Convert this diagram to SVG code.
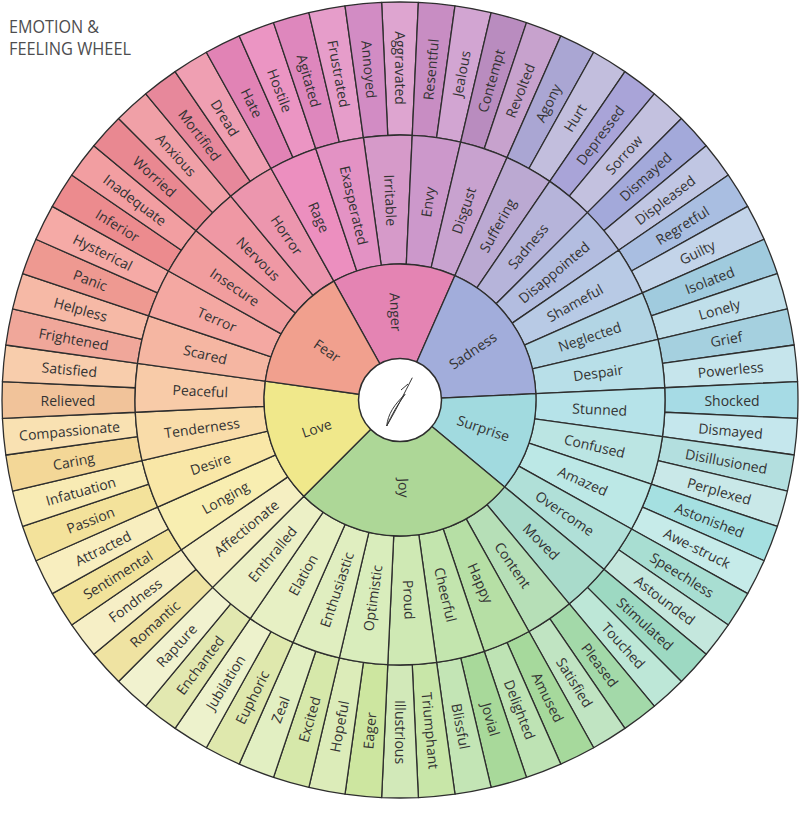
<svg xmlns="http://www.w3.org/2000/svg" xmlns:xlink="http://www.w3.org/1999/xlink" width="800" height="818" viewBox="0 0 800 818">
<style>
.s{stroke:#2e2e2e;stroke-width:1.3;stroke-linejoin:round}
.t{font-family:"Open Sans","Liberation Sans",sans-serif;font-size:14px;fill:#333;text-anchor:middle;dominant-baseline:central}
.title{font-family:"Open Sans","Liberation Sans",sans-serif;font-size:18px;fill:#4d4d4f}
</style>
<defs>
<path id="os" d="M-18.381,-397.575 A398,398 0 0 1 18.381,-397.575 L12.239,-264.717 A265,265 0 0 0 -12.239,-264.717 Z"/>
<path id="ms" d="M-24.451,-263.870 A265,265 0 0 1 24.451,-263.870 L12.548,-135.420 A136,136 0 0 0 -12.548,-135.420 Z"/>
</defs>
<rect width="800" height="818" fill="#ffffff"/>
<g id="title">
<text class="title" x="9" y="33" textLength="90" lengthAdjust="spacingAndGlyphs">EMOTION &amp;</text>
<text class="title" x="9" y="55" textLength="122" lengthAdjust="spacingAndGlyphs">FEELING WHEEL</text>
</g>
<g transform="translate(400,400)">
<g id="outer">
<g id="aggravated"><use href="#os" class="s" transform="rotate(0)" fill="#dea5d0"/><text class="t" transform="rotate(90)" x="-332">Aggravated</text></g>
<g id="resentful"><use href="#os" class="s" transform="rotate(5.294)" fill="#c88dc3"/><text class="t" transform="rotate(-84.706)" x="332">Resentful</text></g>
<g id="jealous"><use href="#os" class="s" transform="rotate(10.588)" fill="#d2a5d2"/><text class="t" transform="rotate(-79.412)" x="332">Jealous</text></g>
<g id="contempt"><use href="#os" class="s" transform="rotate(15.882)" fill="#b98cbf"/><text class="t" transform="rotate(-74.118)" x="332">Contempt</text></g>
<g id="revolted"><use href="#os" class="s" transform="rotate(21.176)" fill="#c7a2cd"/><text class="t" transform="rotate(-68.824)" x="332">Revolted</text></g>
<g id="agony"><use href="#os" class="s" transform="rotate(26.471)" fill="#aaa6d3"/><text class="t" transform="rotate(-63.529)" x="332">Agony</text></g>
<g id="hurt"><use href="#os" class="s" transform="rotate(31.765)" fill="#c2bedd"/><text class="t" transform="rotate(-58.235)" x="332">Hurt</text></g>
<g id="depressed"><use href="#os" class="s" transform="rotate(37.059)" fill="#a9a4d8"/><text class="t" transform="rotate(-52.941)" x="332">Depressed</text></g>
<g id="sorrow"><use href="#os" class="s" transform="rotate(42.353)" fill="#c3c1df"/><text class="t" transform="rotate(-47.647)" x="332">Sorrow</text></g>
<g id="dismayed-1"><use href="#os" class="s" transform="rotate(47.647)" fill="#a3a9da"/><text class="t" transform="rotate(-42.353)" x="332">Dismayed</text></g>
<g id="displeased"><use href="#os" class="s" transform="rotate(52.941)" fill="#c0c6e3"/><text class="t" transform="rotate(-37.059)" x="332">Displeased</text></g>
<g id="regretful"><use href="#os" class="s" transform="rotate(58.235)" fill="#a9bee1"/><text class="t" transform="rotate(-31.765)" x="332">Regretful</text></g>
<g id="guilty"><use href="#os" class="s" transform="rotate(63.529)" fill="#c3d4e9"/><text class="t" transform="rotate(-26.471)" x="332">Guilty</text></g>
<g id="isolated"><use href="#os" class="s" transform="rotate(68.824)" fill="#a0cbde"/><text class="t" transform="rotate(-21.176)" x="332">Isolated</text></g>
<g id="lonely"><use href="#os" class="s" transform="rotate(74.118)" fill="#c0dfea"/><text class="t" transform="rotate(-15.882)" x="332">Lonely</text></g>
<g id="grief"><use href="#os" class="s" transform="rotate(79.412)" fill="#a5d0df"/><text class="t" transform="rotate(-10.588)" x="332">Grief</text></g>
<g id="powerless"><use href="#os" class="s" transform="rotate(84.706)" fill="#c6e5ec"/><text class="t" transform="rotate(-5.294)" x="332">Powerless</text></g>
<g id="shocked"><use href="#os" class="s" transform="rotate(90)" fill="#a6dbe5"/><text class="t" transform="rotate(0)" x="332">Shocked</text></g>
<g id="dismayed-2"><use href="#os" class="s" transform="rotate(95.294)" fill="#c5e7ed"/><text class="t" transform="rotate(5.294)" x="332">Dismayed</text></g>
<g id="disillusioned"><use href="#os" class="s" transform="rotate(100.588)" fill="#b3dfdf"/><text class="t" transform="rotate(10.588)" x="332">Disillusioned</text></g>
<g id="perplexed"><use href="#os" class="s" transform="rotate(105.882)" fill="#c9e8e8"/><text class="t" transform="rotate(15.882)" x="332">Perplexed</text></g>
<g id="astonished"><use href="#os" class="s" transform="rotate(111.176)" fill="#a5e0e1"/><text class="t" transform="rotate(21.176)" x="332">Astonished</text></g>
<g id="awe-struck"><use href="#os" class="s" transform="rotate(116.471)" fill="#c6ebe9"/><text class="t" transform="rotate(26.471)" x="332">Awe-struck</text></g>
<g id="speechless"><use href="#os" class="s" transform="rotate(121.765)" fill="#a8ded2"/><text class="t" transform="rotate(31.765)" x="332">Speechless</text></g>
<g id="astounded"><use href="#os" class="s" transform="rotate(127.059)" fill="#c4e7dd"/><text class="t" transform="rotate(37.059)" x="332">Astounded</text></g>
<g id="stimulated"><use href="#os" class="s" transform="rotate(132.353)" fill="#9dd9c2"/><text class="t" transform="rotate(42.353)" x="332">Stimulated</text></g>
<g id="touched"><use href="#os" class="s" transform="rotate(137.647)" fill="#bde7d7"/><text class="t" transform="rotate(47.647)" x="332">Touched</text></g>
<g id="pleased"><use href="#os" class="s" transform="rotate(142.941)" fill="#a3d9a9"/><text class="t" transform="rotate(52.941)" x="332">Pleased</text></g>
<g id="satisfied-1"><use href="#os" class="s" transform="rotate(148.235)" fill="#c0e4c2"/><text class="t" transform="rotate(58.235)" x="332">Satisfied</text></g>
<g id="amused"><use href="#os" class="s" transform="rotate(153.529)" fill="#a6d99c"/><text class="t" transform="rotate(63.529)" x="332">Amused</text></g>
<g id="delighted"><use href="#os" class="s" transform="rotate(158.824)" fill="#bee3b4"/><text class="t" transform="rotate(68.824)" x="332">Delighted</text></g>
<g id="jovial"><use href="#os" class="s" transform="rotate(164.118)" fill="#a8d99a"/><text class="t" transform="rotate(74.118)" x="332">Jovial</text></g>
<g id="blissful"><use href="#os" class="s" transform="rotate(169.412)" fill="#c3e5b5"/><text class="t" transform="rotate(79.412)" x="332">Blissful</text></g>
<g id="triumphant"><use href="#os" class="s" transform="rotate(174.706)" fill="#c8e6a8"/><text class="t" transform="rotate(84.706)" x="332">Triumphant</text></g>
<g id="illustrious"><use href="#os" class="s" transform="rotate(180)" fill="#d2e9b9"/><text class="t" transform="rotate(90)" x="332">Illustrious</text></g>
<g id="eager"><use href="#os" class="s" transform="rotate(185.294)" fill="#cde6a0"/><text class="t" transform="rotate(-84.706)" x="-332">Eager</text></g>
<g id="hopeful"><use href="#os" class="s" transform="rotate(190.588)" fill="#dcecb9"/><text class="t" transform="rotate(-79.412)" x="-332">Hopeful</text></g>
<g id="excited"><use href="#os" class="s" transform="rotate(195.882)" fill="#d6e8aa"/><text class="t" transform="rotate(-74.118)" x="-332">Excited</text></g>
<g id="zeal"><use href="#os" class="s" transform="rotate(201.176)" fill="#e2efc2"/><text class="t" transform="rotate(-68.824)" x="-332">Zeal</text></g>
<g id="euphoric"><use href="#os" class="s" transform="rotate(206.471)" fill="#dfe8ad"/><text class="t" transform="rotate(-63.529)" x="-332">Euphoric</text></g>
<g id="jubilation"><use href="#os" class="s" transform="rotate(211.765)" fill="#edf2cc"/><text class="t" transform="rotate(-58.235)" x="-332">Jubilation</text></g>
<g id="enchanted"><use href="#os" class="s" transform="rotate(217.059)" fill="#e2e8b0"/><text class="t" transform="rotate(-52.941)" x="-332">Enchanted</text></g>
<g id="rapture"><use href="#os" class="s" transform="rotate(222.353)" fill="#f1f2cf"/><text class="t" transform="rotate(-47.647)" x="-332">Rapture</text></g>
<g id="romantic"><use href="#os" class="s" transform="rotate(227.647)" fill="#efe3a2"/><text class="t" transform="rotate(-42.353)" x="-332">Romantic</text></g>
<g id="fondness"><use href="#os" class="s" transform="rotate(232.941)" fill="#f6efc6"/><text class="t" transform="rotate(-37.059)" x="-332">Fondness</text></g>
<g id="sentimental"><use href="#os" class="s" transform="rotate(238.235)" fill="#f2e39b"/><text class="t" transform="rotate(-31.765)" x="-332">Sentimental</text></g>
<g id="attracted"><use href="#os" class="s" transform="rotate(243.529)" fill="#f8eebf"/><text class="t" transform="rotate(-26.471)" x="-332">Attracted</text></g>
<g id="passion"><use href="#os" class="s" transform="rotate(248.824)" fill="#f3e29b"/><text class="t" transform="rotate(-21.176)" x="-332">Passion</text></g>
<g id="infatuation"><use href="#os" class="s" transform="rotate(254.118)" fill="#f8ebb4"/><text class="t" transform="rotate(-15.882)" x="-332">Infatuation</text></g>
<g id="caring"><use href="#os" class="s" transform="rotate(259.412)" fill="#f3d797"/><text class="t" transform="rotate(-10.588)" x="-332">Caring</text></g>
<g id="compassionate"><use href="#os" class="s" transform="rotate(264.706)" fill="#f9e1b2"/><text class="t" transform="rotate(-5.294)" x="-332">Compassionate</text></g>
<g id="relieved"><use href="#os" class="s" transform="rotate(270)" fill="#f1c39a"/><text class="t" transform="rotate(0)" x="-332">Relieved</text></g>
<g id="satisfied-2"><use href="#os" class="s" transform="rotate(275.294)" fill="#f8cdac"/><text class="t" transform="rotate(5.294)" x="-332">Satisfied</text></g>
<g id="frightened"><use href="#os" class="s" transform="rotate(280.588)" fill="#f0a79a"/><text class="t" transform="rotate(10.588)" x="-332">Frightened</text></g>
<g id="helpless"><use href="#os" class="s" transform="rotate(285.882)" fill="#f6b9a6"/><text class="t" transform="rotate(15.882)" x="-332">Helpless</text></g>
<g id="panic"><use href="#os" class="s" transform="rotate(291.176)" fill="#ee9991"/><text class="t" transform="rotate(21.176)" x="-332">Panic</text></g>
<g id="hysterical"><use href="#os" class="s" transform="rotate(296.471)" fill="#f5aaa6"/><text class="t" transform="rotate(26.471)" x="-332">Hysterical</text></g>
<g id="inferior"><use href="#os" class="s" transform="rotate(301.765)" fill="#ec8b8e"/><text class="t" transform="rotate(31.765)" x="-332">Inferior</text></g>
<g id="inadequate"><use href="#os" class="s" transform="rotate(307.059)" fill="#f29ea1"/><text class="t" transform="rotate(37.059)" x="-332">Inadequate</text></g>
<g id="worried"><use href="#os" class="s" transform="rotate(312.353)" fill="#e98891"/><text class="t" transform="rotate(42.353)" x="-332">Worried</text></g>
<g id="anxious"><use href="#os" class="s" transform="rotate(317.647)" fill="#f0a0a7"/><text class="t" transform="rotate(47.647)" x="-332">Anxious</text></g>
<g id="mortified"><use href="#os" class="s" transform="rotate(322.941)" fill="#e7889b"/><text class="t" transform="rotate(52.941)" x="-332">Mortified</text></g>
<g id="dread"><use href="#os" class="s" transform="rotate(328.235)" fill="#ef9fb2"/><text class="t" transform="rotate(58.235)" x="-332">Dread</text></g>
<g id="hate"><use href="#os" class="s" transform="rotate(333.529)" fill="#e183b5"/><text class="t" transform="rotate(63.529)" x="-332">Hate</text></g>
<g id="hostile"><use href="#os" class="s" transform="rotate(338.824)" fill="#eb95c3"/><text class="t" transform="rotate(68.824)" x="-332">Hostile</text></g>
<g id="agitated"><use href="#os" class="s" transform="rotate(344.118)" fill="#de87bd"/><text class="t" transform="rotate(74.118)" x="-332">Agitated</text></g>
<g id="frustrated"><use href="#os" class="s" transform="rotate(349.412)" fill="#e69dca"/><text class="t" transform="rotate(79.412)" x="-332">Frustrated</text></g>
<g id="annoyed"><use href="#os" class="s" transform="rotate(354.706)" fill="#d28cc4"/><text class="t" transform="rotate(84.706)" x="-332">Annoyed</text></g>
</g>
<g id="middle">
<g id="irritable"><use href="#ms" class="s" transform="rotate(-2.647)" fill="#d69ac9"/><text class="t" transform="rotate(87.353)" x="-200">Irritable</text></g>
<g id="envy"><use href="#ms" class="s" transform="rotate(7.941)" fill="#cc98cb"/><text class="t" transform="rotate(-82.059)" x="200">Envy</text></g>
<g id="disgust"><use href="#ms" class="s" transform="rotate(18.529)" fill="#c8a2cf"/><text class="t" transform="rotate(-71.471)" x="200">Disgust</text></g>
<g id="suffering"><use href="#ms" class="s" transform="rotate(29.118)" fill="#bba9d2"/><text class="t" transform="rotate(-60.882)" x="200">Suffering</text></g>
<g id="sadness-2"><use href="#ms" class="s" transform="rotate(39.706)" fill="#b6b4da"/><text class="t" transform="rotate(-50.294)" x="200">Sadness</text></g>
<g id="disappointed"><use href="#ms" class="s" transform="rotate(50.294)" fill="#b3bde0"/><text class="t" transform="rotate(-39.706)" x="200">Disappointed</text></g>
<g id="shameful"><use href="#ms" class="s" transform="rotate(60.882)" fill="#b8cae5"/><text class="t" transform="rotate(-29.118)" x="200">Shameful</text></g>
<g id="neglected"><use href="#ms" class="s" transform="rotate(71.471)" fill="#b2d5e4"/><text class="t" transform="rotate(-18.529)" x="200">Neglected</text></g>
<g id="despair"><use href="#ms" class="s" transform="rotate(82.059)" fill="#b8dfe8"/><text class="t" transform="rotate(-7.941)" x="200">Despair</text></g>
<g id="stunned"><use href="#ms" class="s" transform="rotate(92.647)" fill="#b6e3e9"/><text class="t" transform="rotate(2.647)" x="200">Stunned</text></g>
<g id="confused"><use href="#ms" class="s" transform="rotate(103.235)" fill="#bbe5e3"/><text class="t" transform="rotate(13.235)" x="200">Confused</text></g>
<g id="amazed"><use href="#ms" class="s" transform="rotate(113.824)" fill="#bce8e6"/><text class="t" transform="rotate(23.824)" x="200">Amazed</text></g>
<g id="overcome"><use href="#ms" class="s" transform="rotate(124.412)" fill="#b0e0d8"/><text class="t" transform="rotate(34.412)" x="200">Overcome</text></g>
<g id="moved"><use href="#ms" class="s" transform="rotate(135)" fill="#a9dbcb"/><text class="t" transform="rotate(45)" x="200">Moved</text></g>
<g id="content"><use href="#ms" class="s" transform="rotate(145.588)" fill="#b6dfb7"/><text class="t" transform="rotate(55.588)" x="200">Content</text></g>
<g id="happy"><use href="#ms" class="s" transform="rotate(156.176)" fill="#b6dfa5"/><text class="t" transform="rotate(66.176)" x="200">Happy</text></g>
<g id="cheerful"><use href="#ms" class="s" transform="rotate(166.765)" fill="#c3e5ae"/><text class="t" transform="rotate(76.765)" x="200">Cheerful</text></g>
<g id="proud"><use href="#ms" class="s" transform="rotate(177.353)" fill="#cfe9b4"/><text class="t" transform="rotate(87.353)" x="200">Proud</text></g>
<g id="optimistic"><use href="#ms" class="s" transform="rotate(187.941)" fill="#d9edbc"/><text class="t" transform="rotate(-82.059)" x="-200">Optimistic</text></g>
<g id="enthusiastic"><use href="#ms" class="s" transform="rotate(198.529)" fill="#e0eec0"/><text class="t" transform="rotate(-71.471)" x="-200">Enthusiastic</text></g>
<g id="elation"><use href="#ms" class="s" transform="rotate(209.118)" fill="#e7f0c4"/><text class="t" transform="rotate(-60.882)" x="-200">Elation</text></g>
<g id="enthralled"><use href="#ms" class="s" transform="rotate(219.706)" fill="#ecf0c6"/><text class="t" transform="rotate(-50.294)" x="-200">Enthralled</text></g>
<g id="affectionate"><use href="#ms" class="s" transform="rotate(230.294)" fill="#f5efc2"/><text class="t" transform="rotate(-39.706)" x="-200">Affectionate</text></g>
<g id="longing"><use href="#ms" class="s" transform="rotate(240.882)" fill="#f8eeb1"/><text class="t" transform="rotate(-29.118)" x="-200">Longing</text></g>
<g id="desire"><use href="#ms" class="s" transform="rotate(251.471)" fill="#f9e7a7"/><text class="t" transform="rotate(-18.529)" x="-200">Desire</text></g>
<g id="tenderness"><use href="#ms" class="s" transform="rotate(262.059)" fill="#f9dca9"/><text class="t" transform="rotate(-7.941)" x="-200">Tenderness</text></g>
<g id="peaceful"><use href="#ms" class="s" transform="rotate(272.647)" fill="#f8cba8"/><text class="t" transform="rotate(2.647)" x="-200">Peaceful</text></g>
<g id="scared"><use href="#ms" class="s" transform="rotate(283.235)" fill="#f5b6a2"/><text class="t" transform="rotate(13.235)" x="-200">Scared</text></g>
<g id="terror"><use href="#ms" class="s" transform="rotate(293.824)" fill="#f4a8a2"/><text class="t" transform="rotate(23.824)" x="-200">Terror</text></g>
<g id="insecure"><use href="#ms" class="s" transform="rotate(304.412)" fill="#f19d9e"/><text class="t" transform="rotate(34.412)" x="-200">Insecure</text></g>
<g id="nervous"><use href="#ms" class="s" transform="rotate(315)" fill="#ef98a4"/><text class="t" transform="rotate(45)" x="-200">Nervous</text></g>
<g id="horror"><use href="#ms" class="s" transform="rotate(325.588)" fill="#ec96ae"/><text class="t" transform="rotate(55.588)" x="-200">Horror</text></g>
<g id="rage"><use href="#ms" class="s" transform="rotate(336.176)" fill="#ec8fbf"/><text class="t" transform="rotate(66.176)" x="-200">Rage</text></g>
<g id="exasperated"><use href="#ms" class="s" transform="rotate(346.765)" fill="#e392c4"/><text class="t" transform="rotate(76.765)" x="-200">Exasperated</text></g>
</g>
<g id="core">
<g id="anger"><path class="s" d="M0,0 L-66.18,-118.81 A136,136 0 0 1 54.93,-124.41 Z" fill="#e484b3"/><text class="t" transform="rotate(87.353)" x="-88">Anger</text></g>
<g id="sadness"><path class="s" d="M0,0 L54.93,-124.41 A136,136 0 0 1 135.85,-6.28 Z" fill="#a2addb"/><text class="t" transform="rotate(-34.412)" x="88">Sadness</text></g>
<g id="surprise"><path class="s" d="M0,0 L135.85,-6.28 A136,136 0 0 1 104.63,86.88 Z" fill="#a1dadf"/><text class="t" transform="rotate(18.529)" x="88">Surprise</text></g>
<g id="joy"><path class="s" d="M0,0 L104.63,86.88 A136,136 0 0 1 -96.17,96.17 Z" fill="#add797"/><text class="t" transform="rotate(87.353)" x="88">Joy</text></g>
<g id="love"><path class="s" d="M0,0 L-96.17,96.17 A136,136 0 0 1 -134.70,-18.79 Z" fill="#f0e88b"/><text class="t" transform="rotate(-18.529)" x="-88">Love</text></g>
<g id="fear"><path class="s" d="M0,0 L-134.70,-18.79 A136,136 0 0 1 -66.18,-118.81 Z" fill="#f1a08e"/><text class="t" transform="rotate(34.412)" x="-88">Fear</text></g>
</g>
<g id="hub">
<circle r="41.5" fill="#ffffff" stroke="#2e2e2e" stroke-width="1.5"/>
<path d="M-13.3,26 C-4,10 4,-6 12.3,-22.3 M-13.3,26 C-12,14 -6,5 5,-5.7 C-2,4 -8,14 -13.3,26 M1,-10 L8,-16" fill="none" stroke="#333" stroke-width="1"/>
</g>
</g>
</svg>
